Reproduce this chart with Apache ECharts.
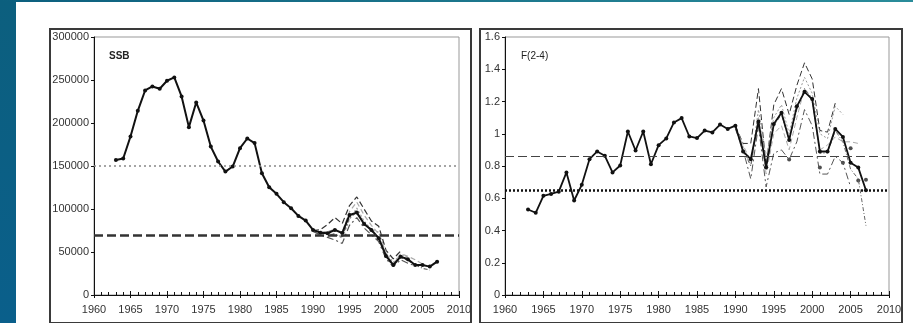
<!DOCTYPE html>
<html><head><meta charset="utf-8">
<script src="https://cdn.jsdelivr.net/npm/echarts@6/dist/echarts.min.js"></script>
<style>
html,body{margin:0;padding:0;width:913px;height:323px;overflow:hidden;background:#fff;}
#strip{position:absolute;left:0;top:0;width:16px;height:323px;background:linear-gradient(#0c5f7e,#0a5f8b);}
#top{position:absolute;left:0;top:0;width:913px;height:2px;background:linear-gradient(90deg,#0c5f7e,#2a8c9a);}
.panel{position:absolute;top:28px;height:296px;border:2px solid #3a3a3a;box-sizing:border-box;}
#chart{position:absolute;left:0;top:0;width:913px;height:323px;}
</style></head>
<body>
<div id="strip"></div><div id="top"></div>
<div class="panel" style="left:49px;width:423px;"></div>
<div class="panel" style="left:479px;width:424px;"></div>
<div id="chart"></div>
<script>
// ---- data ----
const years = [1963,1964,1965,1966,1967,1968,1969,1970,1971,1972,1973,1974,1975,1976,1977,1978,1979,1980,1981,1982,1983,1984,1985,1986,1987,1988,1989,1990,1991,1992,1993,1994,1995,1996,1997,1998,1999,2000,2001,2002,2003,2004,2005,2006,2007];
const ssb = [157000,158700,184300,214200,237800,242500,239800,249100,253000,230900,195200,223900,202900,172600,155200,143500,149400,170700,182000,176600,141600,125300,117600,107900,100900,92000,86500,75700,72500,71800,75700,72000,93100,95800,82600,75700,66000,45400,34900,44600,41500,34900,34900,33000,38800];
const fbar = [0.53,0.51,0.615,0.627,0.641,0.76,0.586,0.683,0.842,0.89,0.863,0.76,0.803,1.014,0.896,1.014,0.811,0.929,0.971,1.07,1.097,0.983,0.973,1.02,1.008,1.057,1.03,1.05,0.89,0.842,1.076,0.793,1.06,1.13,0.962,1.17,1.26,1.215,0.89,0.89,1.03,0.98,0.82,0.79,0.65];
const retroStart = 1990;
const ssbRuns = [
  [75000,76000,82000,90000,83000,104000,114000,100000,86000,80000,52000,42000,51000],
  [76000,74000,73000,71000,66000,88000,101000,86000,76000,73000,49000,38000,47000,44000],
  [74000,70000,67000,64000,60000,81000,90000,78000,70000,62000,42000,33000,41000,37000,34000],
  [75000,73000,74000,76000,73000,97000,108000,93000,81000,71000,47000,36000,48000,45000,41000,36000],
  [75000,72000,71000,70000,68000,90000,96000,84000,74000,67000,44000,34000,44000,40000,35000,31000,29000]
];
const fRuns = [
  [1.05,0.94,0.94,1.28,0.80,1.18,1.28,1.12,1.30,1.44,1.34,1.02,1.01,1.19],
  [1.04,0.92,0.80,1.15,0.85,1.10,1.18,1.00,1.22,1.35,1.25,1.00,0.97,1.17,1.12],
  [1.03,0.90,0.72,1.05,0.67,0.88,0.90,0.84,0.95,1.15,1.05,0.75,0.75,0.86,0.82,0.67],
  [1.05,0.93,0.83,1.10,0.75,1.00,1.05,0.90,1.10,1.28,1.20,0.90,0.93,0.98,0.95,0.95,0.94],
  [1.05,0.90,0.80,1.08,0.78,1.05,1.12,0.96,1.15,1.28,1.22,0.88,0.88,1.02,0.95,0.78,0.72,0.43]
];
const fRunEndDots = [[1994,0.79],[1997,0.84],[2001,0.79],[2004,0.82],[2005,0.91],[2006,0.71],[2007,0.715]];
const ssbRefs = {bpa:150000, blim:70000};
const fRefs = {flim:0.86, fpa:0.65};
const xTicks = {min:1960, max:2010, step:5};

// ---- build ----
const pairs = (ys, vs) => vs.map((v,i)=>[ys[i],v]);
const retroPairs = r => r.map((v,i)=>[retroStart+i, v]);
const runStyles = [
  {color:'#333', type:[6,3]},
  {color:'#999', type:[2,2]},
  {color:'#555', type:[7,3,2,3]},
  {color:'#aaa', type:[5,3]},
  {color:'#666', type:[4,2,1,2]}
];
const font = 'Liberation Sans, Arial, sans-serif';
function xAxis(gi){
  return {type:'value', gridIndex:gi, min:xTicks.min, max:xTicks.max, interval:xTicks.step,
    axisLine:{lineStyle:{color:'#111', width:1}},
    axisTick:{inside:true, length:4, lineStyle:{color:'#111'}},
    minorTick:{show:true, splitNumber:5, length:3, lineStyle:{color:'#111'}},
    splitLine:{show:false},
    axisLabel:{color:'#333', fontSize:11, fontFamily:font, margin:9, formatter:v=>String(v)}};
}
function xAxisOuter(gi){
  return {type:'value', gridIndex:gi, min:xTicks.min, max:xTicks.max, interval:xTicks.step, position:'bottom',
    axisLine:{show:false}, axisTick:{show:true, inside:false, length:3, lineStyle:{color:'#111'}},
    axisLabel:{show:false}, splitLine:{show:false}};
}
function yAxis(gi, max, interval, fmt){
  return {type:'value', gridIndex:gi, min:0, max:max, interval:interval,
    axisLine:{show:true, lineStyle:{color:'#111', width:1}},
    axisTick:{show:true, length:3, lineStyle:{color:'#111'}},
    splitLine:{show:false},
    axisLabel:{color:'#333', fontSize:11, fontFamily:font, margin:5, formatter:fmt}};
}
function refLine(gi, val, color, width, type){
  return {type:'line', xAxisIndex:gi, yAxisIndex:gi, data:[], silent:true,
    markLine:{silent:true, symbol:'none', label:{show:false}, animation:false,
      lineStyle:{color:color, width:width, type:type}, data:[{yAxis:val}]}};
}
const series = [];
series.push(refLine(0, ssbRefs.bpa, '#888', 1.5, [2,3]));
series.push(refLine(0, ssbRefs.blim, '#333', 2.5, [9,4]));
series.push(refLine(1, fRefs.flim, '#444', 1.2, [9,4]));
series.push(refLine(1, fRefs.fpa, '#111', 2.5, [2,2]));
ssbRuns.forEach((r,i)=>series.push({type:'line', xAxisIndex:0, yAxisIndex:0, data:retroPairs(r),
  symbol:'none', lineStyle:{color:runStyles[i].color, width:1.2, type:runStyles[i].type}, animation:false}));
fRuns.forEach((r,i)=>series.push({type:'line', xAxisIndex:1, yAxisIndex:1, data:retroPairs(r),
  symbol:'none', lineStyle:{color:runStyles[i].color, width:1, type:runStyles[i].type}, animation:false}));
series.push({type:'scatter', xAxisIndex:1, yAxisIndex:1, data:fRunEndDots, symbolSize:4,
  itemStyle:{color:'#222'}, animation:false});
series.push({type:'line', xAxisIndex:0, yAxisIndex:0, data:pairs(years, ssb), symbol:'circle', symbolSize:4,
  lineStyle:{color:'#111', width:2}, itemStyle:{color:'#111'}, animation:false});
series.push({type:'line', xAxisIndex:1, yAxisIndex:1, data:pairs(years, fbar), symbol:'circle', symbolSize:4,
  lineStyle:{color:'#111', width:1.8}, itemStyle:{color:'#111'}, animation:false});

const chart = echarts.init(document.getElementById('chart'), null, {renderer:'canvas'});
chart.setOption({
  backgroundColor:'transparent',
  animation:false,
  grid:[
    {left:94, right:454, top:37, bottom:28, show:true, borderColor:'#999', borderWidth:1, backgroundColor:'transparent'},
    {left:505, right:24, top:37, bottom:28, show:true, borderColor:'#999', borderWidth:1, backgroundColor:'transparent'}
  ],
  xAxis:[xAxis(0), xAxis(1), xAxisOuter(0), xAxisOuter(1)],
  yAxis:[yAxis(0, 300000, 50000, v=>String(v)), yAxis(1, 1.6, 0.2, v=>Number(v.toFixed(1)).toString())],
  title:[
    {text:'SSB', left:104, top:46, textStyle:{fontSize:10, fontWeight:'bold', color:'#222', fontFamily:font}},
    {text:'F(2-4)', left:516, top:46, textStyle:{fontSize:10, fontWeight:'normal', color:'#222', fontFamily:font}}
  ],
  series:series
});
</script>
</body></html>
